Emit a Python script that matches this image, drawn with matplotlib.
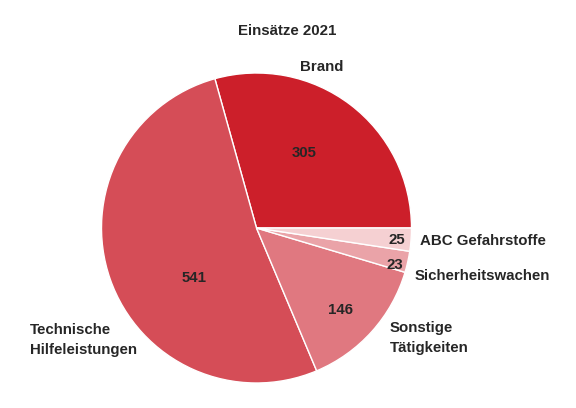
import matplotlib.pyplot as plt

# Einsätze 2021
categories = ['Brand', 'Technische\nHilfeleistungen', 'Sonstige\nTätigkeiten',
              'Sicherheitswachen', 'ABC Gefahrstoffe']
values = [305, 541, 146, 23, 25]
colors = ['#cc1f2a', '#d54d57', '#e07880', '#eaa3a8', '#f5d0d2']

# label layout (data units, pie radius = 1)
name_pos = [(0.42, 1.04, 'center'), (-1.46, -0.72, 'left'), (0.86, -0.71, 'left'),
            (1.02, -0.31, 'left'), (1.055, -0.085, 'left')]
value_pos = [(0.31, 0.485), (-0.40, -0.32), (0.54, -0.53), (0.895, -0.24), (0.905, -0.08)]

plt.rcParams['font.family'] = ['Liberation Sans', 'DejaVu Sans']
txt_color = '#262626'

fig = plt.figure(figsize=(5.76, 4.08), dpi=100)
ax = fig.add_axes([0, 0, 1, 1])

ax.pie(values, colors=colors, startangle=0, counterclock=True,
       wedgeprops=dict(edgecolor='white', linewidth=1.0))

for (x, y, ha), name in zip(name_pos, categories):
    ax.text(x, y, name, ha=ha, va='center', fontsize=10.8, fontweight='bold',
            color=txt_color, linespacing=1.55)
for (x, y), v in zip(value_pos, values):
    ax.text(x, y, str(v), ha='center', va='center', fontsize=10.8,
            fontweight='bold', color=txt_color)

ax.text(0.2, 1.27, 'Einsätze 2021', ha='center', va='center', fontsize=10.8,
        fontweight='bold', color=txt_color)

ax.set_xlim(-256.5 / 155, (576 - 256.5) / 155)
ax.set_ylim(-180 / 155, 228 / 155)
ax.axis('off')

fig.savefig('out.png', dpi=100)
